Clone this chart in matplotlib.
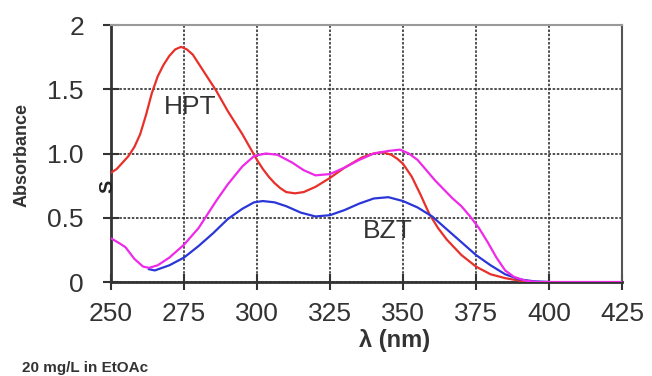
import numpy as np
import matplotlib
matplotlib.use('Agg')
import matplotlib.pyplot as plt

plt.rcParams['font.family'] = ['Liberation Sans', 'DejaVu Sans']

# HPT (red)
hpt_wl = [250, 252, 254, 256, 258, 260, 262, 264, 266, 268, 270, 272, 274, 276, 278,
          282, 286, 290, 295, 298, 300, 302, 304, 306, 308, 310, 313, 316, 320, 325,
          330, 336, 340, 343, 346, 348, 350, 353, 356, 359, 362, 365, 370, 375, 380,
          385, 390, 395, 400]
hpt_abs = [0.85, 0.88, 0.93, 0.98, 1.05, 1.15, 1.30, 1.47, 1.60, 1.69, 1.76, 1.81, 1.83, 1.81, 1.77,
           1.63, 1.49, 1.33, 1.15, 1.03, 0.95, 0.88, 0.82, 0.77, 0.73, 0.70, 0.69, 0.70, 0.74, 0.81,
           0.89, 0.97, 1.00, 1.01, 0.99, 0.96, 0.92, 0.82, 0.68, 0.53, 0.42, 0.33, 0.21, 0.12, 0.06,
           0.03, 0.01, 0.0, 0.0]

# second absorber (magenta)
mag_wl = [250, 253, 255, 258, 261, 263, 266, 270, 275, 280, 286, 290, 295, 299, 303, 307,
          312, 316, 320, 325, 330, 335, 340, 345, 349, 352, 355, 358, 361, 364, 367, 370,
          373, 376, 379, 382, 385, 388, 392, 396, 400, 410, 425]
mag_abs = [0.34, 0.30, 0.27, 0.18, 0.12, 0.11, 0.13, 0.19, 0.29, 0.42, 0.63, 0.76, 0.90, 0.98,
           1.00, 0.99, 0.93, 0.87, 0.83, 0.84, 0.89, 0.95, 1.00, 1.02, 1.03, 1.00, 0.95, 0.87,
           0.79, 0.72, 0.65, 0.59, 0.51, 0.42, 0.31, 0.19, 0.09, 0.04, 0.01, 0.0, 0.0, 0.0, 0.0]

# BZT (blue)
bzt_wl = [263, 265, 270, 275, 280, 285, 290, 295, 299, 302, 306, 310, 315, 320, 325, 330,
          335, 340, 345, 350, 355, 360, 365, 370, 375, 380, 385, 390, 395, 400]
bzt_abs = [0.10, 0.09, 0.13, 0.19, 0.28, 0.38, 0.49, 0.57, 0.62, 0.63, 0.62, 0.59, 0.54, 0.51,
           0.52, 0.56, 0.61, 0.65, 0.66, 0.63, 0.58, 0.51, 0.41, 0.31, 0.21, 0.13, 0.06, 0.02,
           0.005, 0.0]

x_ticks = [250, 275, 300, 325, 350, 375, 400, 425]
y_ticks = [0, 0.5, 1.0, 1.5, 2]
y_labels = ['0', '0.5', '1.0', '1.5', '2']

fig = plt.figure(figsize=(6.52, 3.76), dpi=100)
ax = fig.add_axes([0.1702, 0.25, 0.7838, 0.6835])

ax.plot(hpt_wl, hpt_abs, color='#e8302a', lw=1.6, zorder=3)
ax.plot(bzt_wl, bzt_abs, color='#2a36d8', lw=1.6, zorder=3)
ax.plot(mag_wl, mag_abs, color='#ee2ae8', lw=1.6, zorder=4)

ax.set_xlim(250, 425)
ax.set_ylim(0, 2)
ax.set_xticks(x_ticks)
ax.set_yticks(y_ticks)
ax.set_yticklabels(y_labels)

ax.grid(True, color='#333333', linestyle=(0, (1.5, 1)), linewidth=1.2, zorder=1)
ax.set_axisbelow(True)

ax.tick_params(axis='both', direction='inout', length=11, width=1.5, colors='#333333',
               labelsize=19, labelcolor='#333333')
ax.tick_params(axis='x', pad=9)
ax.tick_params(axis='y', pad=14)

for side in ['left', 'bottom']:
    ax.spines[side].set_color('#333333')
    ax.spines[side].set_linewidth(2)
ax.spines['top'].set_color('#9a9a9a')
ax.spines['top'].set_linewidth(1.5)
ax.spines['right'].set_color('#555555')
ax.spines['right'].set_linewidth(1.5)

ax.text(277, 1.36, 'HPT', fontsize=19, color='#333333', ha='center', va='center', zorder=5)
ax.text(344.9, 0.40, 'BZT', fontsize=19, color='#333333', ha='center', va='center', zorder=5)

fig.text(395 / 652, 1 - 340 / 376, 'λ (nm)', fontsize=17, fontweight='bold',
         color='#333333', ha='center', va='center')
fig.text(22 / 652, 1 - 155 / 376, 'Absorbance', fontsize=13, fontweight='bold',
         color='#333333', rotation=90, ha='center', va='center')
fig.text(107.5 / 652, 1 - 186.5 / 376, 'S', fontsize=14, fontweight='bold',
         color='#222222', rotation=90, ha='center', va='center')
fig.text(22 / 652, 1 - 368 / 376, '20 mg/L in EtOAc', fontsize=11, fontweight='bold',
         color='#333333', ha='left', va='center')

fig.savefig('out.png', dpi=100)
